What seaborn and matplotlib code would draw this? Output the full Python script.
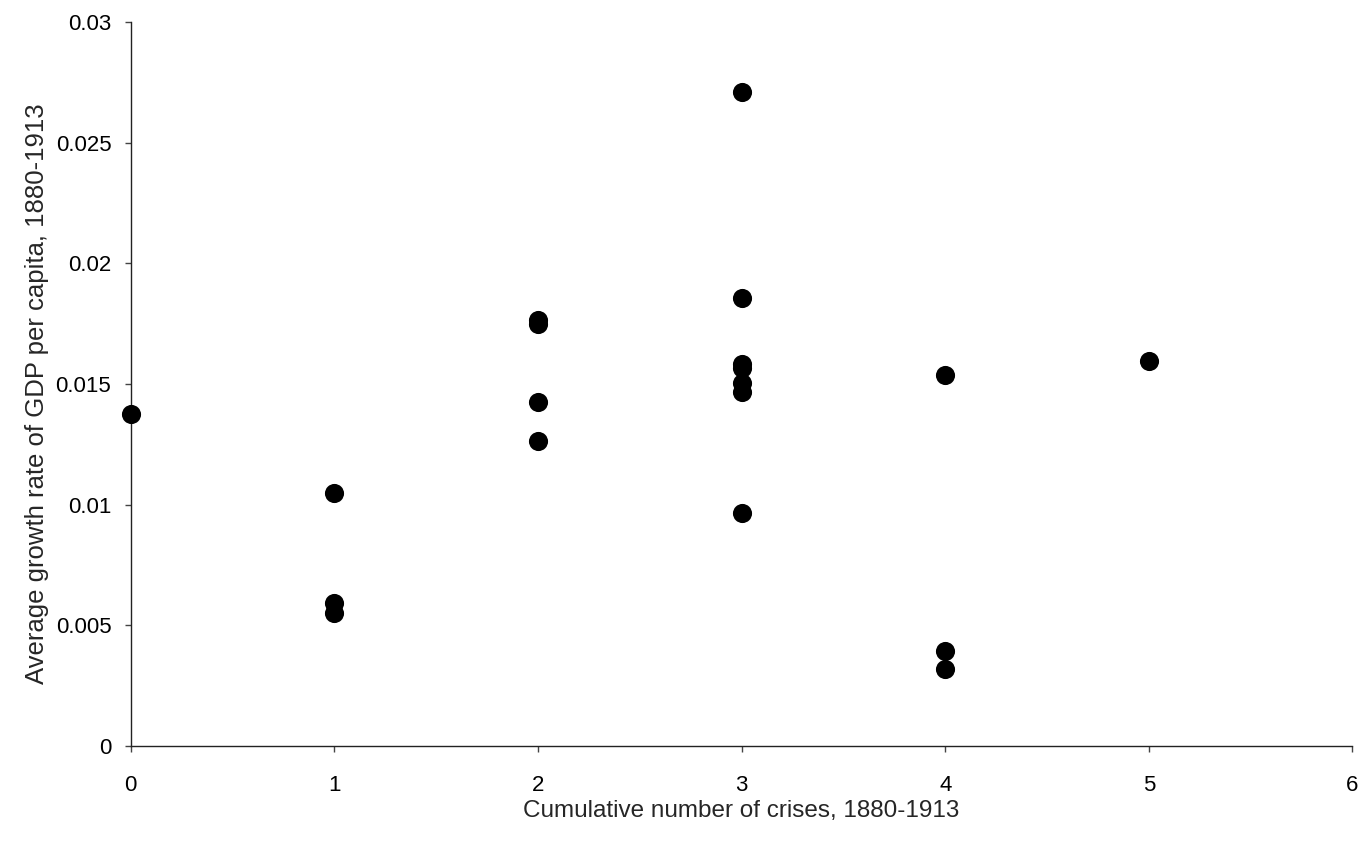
import matplotlib
matplotlib.use("Agg")
import matplotlib.pyplot as plt
import seaborn as sns
import pandas as pd
from matplotlib.ticker import FuncFormatter, MultipleLocator

crises = [0, 1, 1, 1, 2, 2, 2, 2, 3, 3, 3, 3, 3, 3, 3, 4, 4, 4, 5]
growth = [0.01376, 0.01048, 0.00593, 0.00551,
          0.01765, 0.01749, 0.01425, 0.01264,
          0.0271, 0.01856, 0.01583, 0.01566, 0.01504, 0.01467, 0.00965,
          0.01537, 0.00394, 0.00319,
          0.01595]

df = pd.DataFrame({"crises": crises, "growth": growth})

sns.set_style("white")
plt.rcParams['font.family'] = ['Liberation Sans', 'DejaVu Sans']

fig = plt.figure(figsize=(13.62, 8.41), dpi=100)
ax = fig.add_axes([0.096, 0.113, 0.897, 0.861])
sns.scatterplot(data=df, x="crises", y="growth", color="black", s=190,
                linewidth=0, ax=ax, clip_on=False, zorder=3)

ax.set_xlim(0, 6)
ax.set_ylim(0, 0.03)
ax.xaxis.set_major_locator(MultipleLocator(1))
ax.yaxis.set_major_locator(MultipleLocator(0.005))
ax.yaxis.set_major_formatter(FuncFormatter(lambda v, p: "0" if abs(v) < 1e-12 else f"{v:g}"))
for s in ["top", "right"]:
    ax.spines[s].set_visible(False)
for s in ["left", "bottom"]:
    ax.spines[s].set_color("#222222")
    ax.spines[s].set_linewidth(1)
ax.tick_params(axis="both", direction="out", length=4, width=1, color="#444444",
               labelsize=16, labelcolor="black", bottom=True, left=True)
ax.tick_params(axis="x", pad=17)
ax.tick_params(axis="y", pad=10)
ax.set_xlabel("Cumulative number of crises, 1880-1913", fontsize=17.5, labelpad=3)
ax.set_ylabel("Average growth rate of GDP per capita, 1880-1913", fontsize=18.5)
ax.yaxis.set_label_coords(-0.067, 0.487)

fig.savefig("out.png", dpi=100)
